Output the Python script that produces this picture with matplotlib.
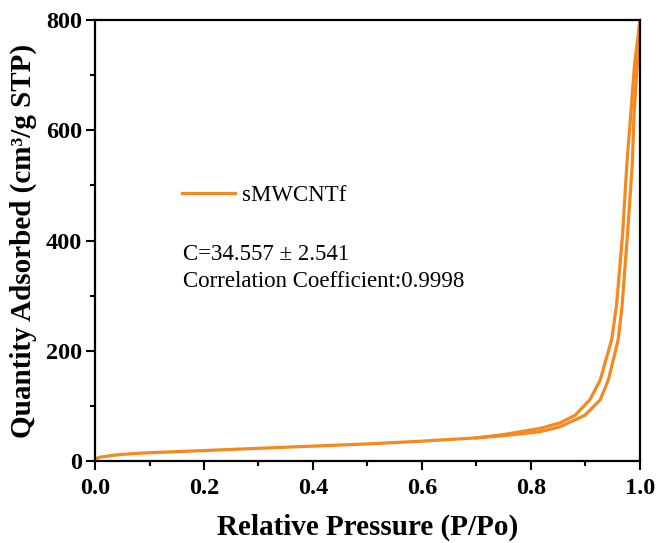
import matplotlib
matplotlib.use("Agg")
import matplotlib.pyplot as plt
from matplotlib.ticker import MultipleLocator

# adsorption branch
ads_p = [0.0, 0.01, 0.03, 0.05, 0.08, 0.10, 0.15, 0.20, 0.25, 0.30, 0.40, 0.50,
         0.60, 0.70, 0.75, 0.816, 0.853, 0.899, 0.927, 0.942, 0.960, 0.967,
         0.977, 0.986, 0.989, 0.995, 1.0]
ads_v = [4, 7, 10, 12, 14, 15, 17, 19, 21, 23, 27, 31,
         36, 42, 46, 53, 62, 83, 111, 147, 220, 280,
         410, 540, 628, 719, 800]
# desorption branch
des_p = [1.0, 0.990, 0.983, 0.976, 0.968, 0.957, 0.948, 0.927, 0.908, 0.881,
         0.853, 0.816, 0.75, 0.70]
des_v = [800, 719, 628, 540, 410, 283, 220, 147, 111, 83,
         69, 59, 48, 42]

label = "sMWCNTf"
note = "C=34.557 \u00b1 2.541\nCorrelation Coefficient:0.9998"
color = "#F5891F"

plt.rcParams['font.family'] = ['Liberation Serif', 'DejaVu Serif']

fig = plt.figure(figsize=(6.57, 5.43), dpi=100)
ax = fig.add_axes([0.1446, 0.151, 0.8295, 0.812])

ax.plot(ads_p, ads_v, color=color, lw=2.3, label=label)
ax.plot(des_p, des_v, color=color, lw=2.3)

ax.set_xlim(0, 1.0)
ax.set_ylim(0, 800)
ax.xaxis.set_major_locator(MultipleLocator(0.2))
ax.xaxis.set_minor_locator(MultipleLocator(0.1))
ax.yaxis.set_major_locator(MultipleLocator(200))
ax.yaxis.set_minor_locator(MultipleLocator(100))
ax.tick_params(which='major', direction='out', length=6.5, width=1.5, labelsize=17.5)
ax.tick_params(which='minor', direction='out', length=3.6, width=1.5)
ax.tick_params(axis='x', which='major', pad=6)
ax.tick_params(axis='y', which='major', pad=3)
for t in ax.get_xticklabels() + ax.get_yticklabels():
    t.set_fontweight('bold')
for s in ax.spines.values():
    s.set_linewidth(1.6)

ax.set_xlabel('Relative Pressure (P/Po)', fontsize=21, fontweight='bold', labelpad=10)
ax.set_ylabel('Quantity Adsorbed (cm\u00b3/g STP)', fontsize=21, fontweight='bold', labelpad=6)

ax.legend(loc='center left', bbox_to_anchor=(0.1596, 0.603), frameon=False,
          fontsize=16.5, handlelength=2.3, handletextpad=0.3,
          borderpad=0, borderaxespad=0)
ax.text(0.1615, 0.4376, note, transform=ax.transAxes, fontsize=16.5,
        va='center', ha='left', linespacing=1.42)

fig.savefig('out.png', dpi=100)
